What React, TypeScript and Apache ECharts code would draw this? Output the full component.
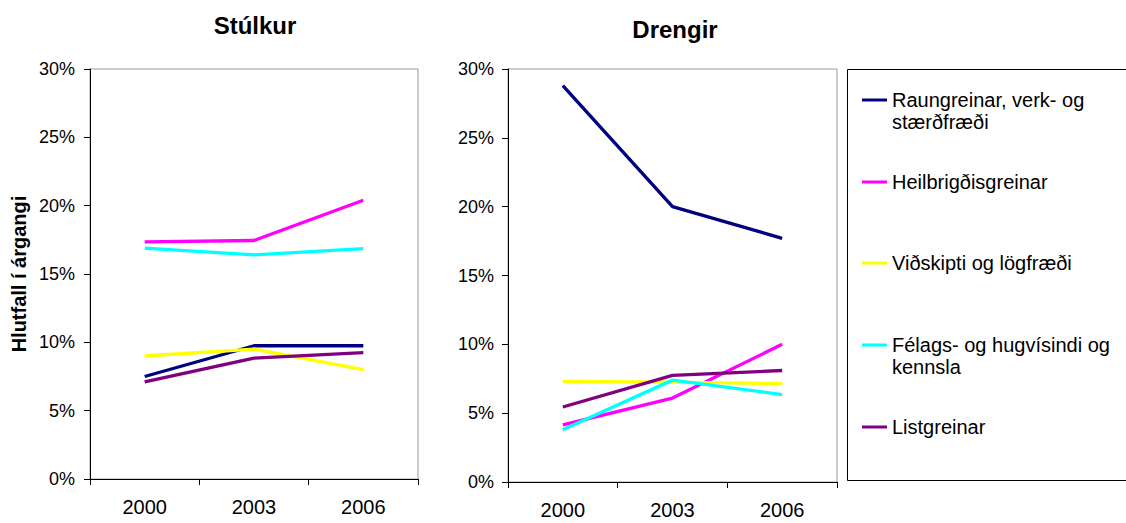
import React, { useEffect, useRef } from "react";
import * as echarts from "echarts";

const years = ["2000", "2003", "2006"];
const seriesNames = [
  "Raungreinar, verk- og stærðfræði",
  "Heilbrigðisgreinar",
  "Viðskipti og lögfræði",
  "Félags- og hugvísindi og kennsla",
  "Listgreinar",
];
const legendLines = [
  ["Raungreinar, verk- og", "stærðfræði"],
  ["Heilbrigðisgreinar"],
  ["Viðskipti og lögfræði"],
  ["Félags- og hugvísindi og", "kennsla"],
  ["Listgreinar"],
];
const colors = ["#000080", "#FF00FF", "#FFFF00", "#00FFFF", "#800080"];

// Stúlkur (girls), percent
const girlsRaun = [7.5, 9.75, 9.75];
const girlsHeil = [17.35, 17.45, 20.4];
const girlsVid = [9.0, 9.5, 8.0];
const girlsFel = [16.9, 16.4, 16.85];
const girlsList = [7.1, 8.85, 9.25];

// Drengir (boys), percent
const boysRaun = [28.8, 20.0, 17.7];
const boysHeil = [4.15, 6.1, 10.0];
const boysVid = [7.3, 7.25, 7.15];
const boysFel = [3.8, 7.4, 6.35];
const boysList = [5.45, 7.75, 8.1];

const girls = [girlsRaun, girlsHeil, girlsVid, girlsFel, girlsList];
const boys = [boysRaun, boysHeil, boysVid, boysFel, boysList];

const FONT = "'Liberation Sans', Arial, sans-serif";

export default function App() {
  const ref = useRef<HTMLDivElement>(null);
  useEffect(() => {
    if (!ref.current) return;
    const chart = echarts.init(ref.current, undefined, { renderer: "svg" });

    const xAxisBase = (gridIndex: number) => ({
      type: "category",
      gridIndex,
      data: years,
      boundaryGap: true,
      axisLine: { lineStyle: { color: "#000", width: 1 } },
      axisTick: { show: true, alignWithLabel: false, length: 6, lineStyle: { color: "#000" } },
      axisLabel: { color: "#000", fontSize: 20, fontFamily: FONT, margin: 18 },
      splitLine: { show: false },
    });
    const yAxisBase = (gridIndex: number, margin: number) => ({
      type: "value",
      gridIndex,
      min: 0,
      max: 30,
      interval: 5,
      axisLine: { show: true, lineStyle: { color: "#000", width: 1 } },
      axisTick: { show: true, length: 6, lineStyle: { color: "#000" } },
      axisLabel: { color: "#000", fontSize: 18, fontFamily: FONT, margin, formatter: "{value}%" },
      splitLine: { show: false },
    });

    const series: any[] = [];
    girls.forEach((d, i) =>
      series.push({
        type: "line",
        name: seriesNames[i],
        xAxisIndex: 0,
        yAxisIndex: 0,
        data: d,
        symbol: "none",
        lineStyle: { color: colors[i], width: 3.3 },
        itemStyle: { color: colors[i] },
      })
    );
    boys.forEach((d, i) =>
      series.push({
        type: "line",
        name: seriesNames[i],
        xAxisIndex: 1,
        yAxisIndex: 1,
        data: d,
        symbol: "none",
        lineStyle: { color: colors[i], width: 3.3 },
        itemStyle: { color: colors[i] },
      })
    );

    const legendY = [100, 182, 263, 345, 427];
    const legendGraphics: any[] = [
      {
        type: "rect",
        shape: { x: 847.5, y: 69.5, width: 300, height: 411 },
        style: { fill: "#fff", stroke: "#000", lineWidth: 1 },
        z: 0,
      },
    ];
    legendLines.forEach((lines, i) => {
      legendGraphics.push({
        type: "line",
        shape: { x1: 862, y1: legendY[i], x2: 887, y2: legendY[i] },
        style: { stroke: colors[i], lineWidth: 3 },
        z: 1,
      });
      legendGraphics.push({
        type: "text",
        x: 892,
        y: legendY[i] - 11,
        style: {
          text: lines.join("\n"),
          fill: "#000",
          font: `20px ${FONT}`,
          lineHeight: 22,
          textVerticalAlign: "top",
        },
        z: 1,
      });
    });

    chart.setOption({
      animation: false,
      backgroundColor: "#fff",
      title: [
        {
          text: "Stúlkur",
          left: 250,
          top: 8,
          textAlign: "center",
          textStyle: { fontSize: 24, fontWeight: "bold", fontFamily: FONT, color: "#000" },
        },
        {
          text: "Drengir",
          left: 670,
          top: 12,
          textAlign: "center",
          textStyle: { fontSize: 24, fontWeight: "bold", fontFamily: FONT, color: "#000" },
        },
      ],
      grid: [
        { left: 90, top: 69, width: 328, height: 410, show: true, borderColor: "#999", borderWidth: 1, backgroundColor: "transparent" },
        { left: 508, top: 69, width: 329, height: 413, show: true, borderColor: "#999", borderWidth: 1, backgroundColor: "transparent" },
      ],
      xAxis: [xAxisBase(0), xAxisBase(1)],
      yAxis: [
        {
          ...yAxisBase(0, 15),
          name: "Hlutfall í árgangi",
          nameLocation: "middle",
          nameGap: 61,
          nameRotate: 90,
          nameTextStyle: { fontSize: 20, fontWeight: "bold", fontFamily: FONT, color: "#000" },
        },
        yAxisBase(1, 14),
      ],
      graphic: legendGraphics,
      series,
    });

    return () => chart.dispose();
  }, []);

  return (
    <div
      ref={ref}
      style={{ position: "fixed", left: 0, top: 0, width: 1126, height: 523, background: "#fff" }}
    />
  );
}
